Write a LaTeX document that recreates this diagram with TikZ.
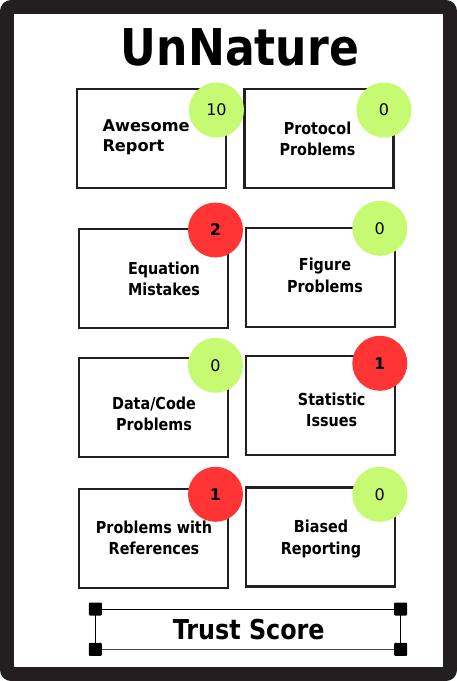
\documentclass[tikz,border=0pt]{standalone}
\usepackage{fontspec}
\setmainfont{DejaVu Sans}
\newfontfamily\cond[FakeStretch=0.87]{DejaVu Sans}
\definecolor{framecol}{HTML}{231F20}
\definecolor{okgreen}{HTML}{C5FA72}
\definecolor{badred}{HTML}{FF3535}
\begin{document}
\begin{tikzpicture}[x=1pt,y=-1pt,
  box/.style={draw=framecol, line width=2.3pt, rectangle, minimum width=149pt, minimum height=99pt, inner sep=0pt},
  badge/.style={circle, minimum size=55pt, inner sep=0pt, font=\fontsize{16}{18}\selectfont},
  good/.style={badge, fill=okgreen},
  bad/.style={badge, fill=badred, font=\bfseries\fontsize{16}{18}\selectfont},
  lbl/.style={font=\cond\bfseries\fontsize{16.5}{21.5}\selectfont, align=center, inner sep=0pt},
  handle/.style={rectangle, fill=black, minimum size=13pt, inner sep=0pt, rounded corners=1pt}]
\useasboundingbox (0,0) rectangle (457,681);
% frame
\fill[framecol, rounded corners=11pt] (0,0) rectangle (457,681);
\fill[white] (14,14) rectangle (443,667);
% title
\node[font=\cond\bfseries\fontsize{50.7}{60}\selectfont, anchor=base, inner sep=0pt] (title) at (240,65) {UnNature};
% boxes
\node[box] (b1) at (151.4,138.5) {};
\node[box] (b2) at (319,138.5) {};
\node[box] (b3) at (153.2,278.7) {};
\node[box] (b4) at (320.2,277.5) {};
\node[box] (b5) at (153.2,407.2) {};
\node[box] (b6) at (320.2,405.7) {};
\node[box] (b7) at (153.2,538.3) {};
\node[box] (b8) at (320.2,537) {};
% labels
\node[lbl, font=\bfseries\fontsize{16.2}{20.5}\selectfont, align=left, anchor=west] (l1) at (102.3,137.5) {Awesome\\Report};
\node[lbl] (l2) at (317.5,139) {Protocol\\Problems};
\node[lbl] (l3) at (164,279) {Equation\\Mistakes};
\node[lbl] (l4) at (325,275.5) {Figure\\Problems};
\node[lbl] (l5) at (154,414) {Data/Code\\Problems};
\node[lbl] (l6) at (331.7,409.7) {Statistic\\Issues};
\node[lbl] (l7) at (154,538) {Problems with\\References};
\node[lbl] (l8) at (321,539) {Biased\\Reporting};
% badges
\node[good] (c1) at (216.5,110) {10};
\node[good] (c2) at (384,110) {0};
\node[bad] (c3) at (215.5,230) {2};
\node[good] (c4) at (379.8,228.3) {0};
\node[good] (c5) at (215.5,365.3) {0};
\node[bad] (c6) at (379.8,363.3) {1};
\node[bad] (c7) at (215.5,494.3) {1};
\node[good] (c8) at (379.8,494.3) {0};
% trust score
\node[rectangle, minimum width=305pt, minimum height=40pt, inner sep=0pt] (ts) at (248,629.2) {};
\draw[line width=1pt, black] (ts.north west) -- (ts.north east);
\draw[line width=1pt, black!70] (ts.south west) -- (ts.south east);
\draw[line width=1pt, black] (ts.north west) -- (ts.south west);
\draw[line width=1pt, black] (ts.north east) -- (ts.south east);
\node[font=\cond\bfseries\fontsize{27.4}{30}\selectfont, anchor=base, inner sep=0pt] (tstext) at (248.7,639.3) {Trust Score};
\node[handle] (h1) at (ts.north west) {};
\node[handle] (h2) at (ts.north east) {};
\node[handle] (h3) at (ts.south west) {};
\node[handle] (h4) at (ts.south east) {};
\end{tikzpicture}
\end{document}
